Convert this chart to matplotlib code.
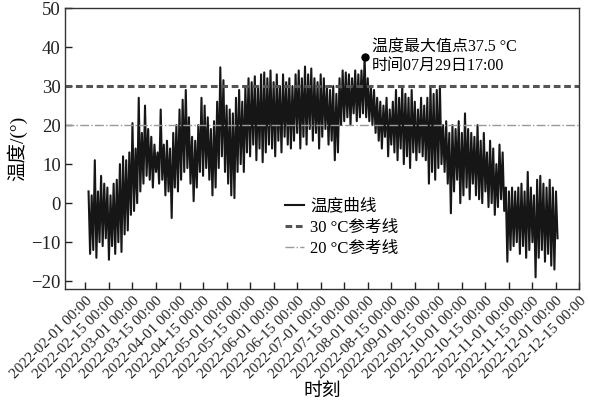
import matplotlib.pyplot as plt
import matplotlib.transforms as mtransforms
import numpy as np

plt.rcParams['font.family'] = ['Liberation Serif', 'Noto Sans CJK SC']
plt.rcParams['axes.unicode_minus'] = True

# temperature: alternating daily high / low, 2022-02-03 onward
high = [3, 2, 11, 3, 7, 5, 4, 2, 5, 6, 10, 12, 11, 13, 20.5, 14, 27, 18, 25, 19,
        17, 15, 13, 24, 15, 16, 14, 18, 20, 24, 26.5, 29, 22, 17, 16, 20, 27, 25, 22, 19,
        21, 26, 34.8, 31.5, 25, 24, 23, 27, 29, 26, 30, 32, 31, 32.5, 30, 33, 33.5, 32, 34, 31,
        33, 30, 33, 31, 32, 30, 33, 34, 32, 35, 33, 34.5, 32, 31, 33, 32, 30, 29, 30, 28,
        32, 34, 33.5, 33, 32, 34, 33, 34, 37.5, 32, 30, 29, 27, 26, 25, 27, 24, 26, 29, 27,
        30, 28, 27, 29, 26, 24, 27, 25, 27, 30, 28, 29, 30, 20, 21, 18, 20, 19, 21, 18,
        23, 19, 18, 17, 20, 16, 18, 13, 16, 14, 10, 15, 13, 4, 3, 4, 3, 4, 5, 3,
        8, 4, 2, 6, 7, 5, 4, 6, 4, 3]
low = [-13, -12, -14, -10, -11, -9, -14.5, -11, -13, -10, -12.5, -8, -7, -3, -2, 0, 3, 5, 7, 6,
       4, 8, 5, 6, 2, 3, -3.8, 4, 3, 6, 8, 9, 5, 0.5, 4, 8, 7, 9, 6, 2,
       4, 9, 12, 8, 5, 2, 1.3, 8, 10, 8, 13, 12, 15, 11, 14, 10.5, 13, 15, 14, 12,
       16, 13, 17, 15, 14, 16, 18, 14, 17, 15, 19, 16, 18, 14, 17, 19, 15, 16, 11, 13,
       20, 21, 22, 20, 23, 21, 22, 23, 22, 21, 20, 18, 16, 14, 17, 12, 15, 13, 11, 14,
       10, 12, 9, 13, 11, 13, 12, 11, 5, 8, 6, 9, 10, 8, 5, -2.6, 3, 6, 0, 2,
       4, 1, 5, 2, 1, 0, 3, -1, 0, -3, -1, 1, -2, -15, -12, -11, -10, -13, -11, -14,
       -12, -10, -19, -14, -12, -15, -13, -16, -17, -9]

tick_labels = ['2022-02-01 00:00', '2022-02-15 00:00', '2022-03-01 00:00', '2022-03-15 00:00',
               '2022-04-01 00:00', '2022-04-15 00:00', '2022-05-01 00:00', '2022-05-15 00:00',
               '2022-06-01 00:00', '2022-06-15 00:00', '2022-07-01 00:00', '2022-07-15 00:00',
               '2022-08-01 00:00', '2022-08-15 00:00', '2022-09-01 00:00', '2022-09-15 00:00',
               '2022-10-01 00:00', '2022-10-15 00:00', '2022-11-01 00:00', '2022-11-15 00:00',
               '2022-12-01 00:00', '2022-12-15 00:00']

temp = np.empty(len(high) * 2)
temp[0::2] = high
temp[1::2] = low
day = np.arange(len(temp)) + 2

fig = plt.figure(figsize=(5.9, 4.13), dpi=100)
ax = fig.add_axes([0.1102, 0.3002, 0.872, 0.6804])

ax.plot(day, temp, color='#161616', lw=1.5, label='温度曲线')
ax.axhline(30, color='#555555', lw=2.2, linestyle=(0, (2.2, 1.2)), label='30 °C参考线')
ax.axhline(20, color='#999999', lw=1.0, linestyle='-.', label='20 °C参考线')

i = np.argmax(temp)
ax.plot(day[i], temp[i], 'o', color='black', markersize=5)
ax.annotate('温度最大值点%.1f °C\n时间07月29日17:00' % temp[i], xy=(day[i], temp[i]),
            xytext=(5, 0), textcoords='offset points', ha='left', va='center',
            fontsize=11.5, linespacing=1.15)

ax.set_xlim(-13, 315)
ax.set_ylim(-22, 50)
ax.set_yticks(range(-20, 51, 10))
ax.set_xticks(np.arange(len(tick_labels)) * 15)
ax.set_xticklabels(tick_labels, rotation=45, ha='right', rotation_mode='anchor')
shift = mtransforms.ScaledTranslation(-5 / 72, -1 / 72, fig.dpi_scale_trans)
for lab in ax.get_xticklabels():
    lab.set_transform(lab.get_transform() + shift)

ax.tick_params(direction='in', length=5, width=1, colors='#222222')
ax.tick_params(axis='y', labelsize=13.5, pad=3)
ax.tick_params(axis='x', labelsize=11, pad=4)
for s in ax.spines.values():
    s.set_color('#333333')
    s.set_linewidth(1)

ax.set_ylabel('温度/(°)', fontsize=14, labelpad=3)
ax.set_xlabel('时刻', fontsize=13.5, labelpad=1)

ax.legend(loc='upper left', bbox_to_anchor=(0.415, 0.345), frameon=False, fontsize=12,
          handlelength=1.1, handletextpad=0.4, labelspacing=0.3, borderaxespad=0)

plt.savefig('out.png', dpi=100)
